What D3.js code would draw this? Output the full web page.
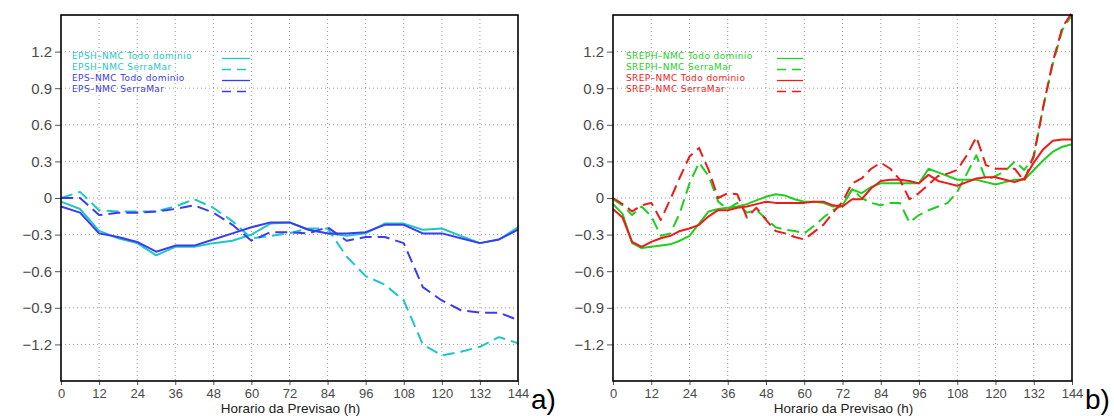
<!DOCTYPE html>
<html><head><meta charset="utf-8">
<script src="https://cdn.jsdelivr.net/npm/d3@7"></script>
<style>
body{margin:0;background:#fff;}
svg{display:block;}
</style></head>
<body>
<svg id="chart" width="1114" height="416"></svg>
<script>
// ---- data ----
const hoursA = [0,6,12,18,24,30,36,42,48,54,60,66,72,78,84,90,96,102,108,114,120,126,132,138,144];
const epshTodo = [-0.03,-0.09,-0.27,-0.33,-0.37,-0.47,-0.40,-0.40,-0.37,-0.35,-0.30,-0.21,-0.20,-0.26,-0.29,-0.31,-0.29,-0.21,-0.21,-0.26,-0.25,-0.31,-0.37,-0.34,-0.24];
const epshSerra = [0.00,0.05,-0.10,-0.11,-0.11,-0.11,-0.07,-0.01,-0.08,-0.19,-0.33,-0.31,-0.29,-0.25,-0.25,-0.48,-0.64,-0.71,-0.84,-1.20,-1.29,-1.26,-1.22,-1.14,-1.19];
const epsTodo = [-0.07,-0.12,-0.29,-0.32,-0.36,-0.44,-0.39,-0.39,-0.34,-0.29,-0.24,-0.20,-0.20,-0.26,-0.29,-0.29,-0.28,-0.22,-0.22,-0.29,-0.29,-0.33,-0.37,-0.34,-0.26];
const epsSerra = [0.00,0.00,-0.14,-0.12,-0.12,-0.11,-0.09,-0.06,-0.12,-0.22,-0.35,-0.28,-0.28,-0.29,-0.24,-0.35,-0.32,-0.32,-0.37,-0.73,-0.84,-0.92,-0.94,-0.94,-1.00];

const hoursB = [0,3,6,9,12,15,18,21,24,27,30,33,36,39,42,45,48,51,54,57,60,63,66,69,72,75,78,81,84,87,90,93,96,99,102,105,108,111,114,117,120,123,126,129,132,135,138,141,144];
const srephTodo = [-0.05,-0.13,-0.37,-0.41,-0.40,-0.39,-0.38,-0.35,-0.31,-0.21,-0.11,-0.09,-0.08,-0.07,-0.05,-0.02,0.01,0.03,0.02,-0.01,-0.03,-0.03,-0.04,-0.07,-0.06,0.07,0.04,0.09,0.12,0.12,0.12,0.12,0.12,0.24,0.21,0.18,0.15,0.15,0.15,0.13,0.11,0.13,0.15,0.15,0.23,0.31,0.38,0.42,0.44];
const srephSerra = [-0.01,-0.06,-0.14,-0.07,-0.15,-0.31,-0.29,-0.12,0.12,0.29,0.18,-0.03,-0.09,-0.04,-0.12,-0.10,-0.17,-0.24,-0.26,-0.27,-0.29,-0.23,-0.16,-0.10,-0.06,0.07,0.00,-0.04,-0.06,-0.04,-0.04,-0.20,-0.14,-0.10,-0.07,-0.04,0.05,0.20,0.35,0.15,0.18,0.22,0.30,0.23,0.33,0.75,1.10,1.38,1.50];
const srepTodo = [-0.09,-0.16,-0.36,-0.40,-0.36,-0.33,-0.31,-0.27,-0.25,-0.22,-0.15,-0.10,-0.10,-0.08,-0.07,-0.05,-0.03,-0.04,-0.04,-0.04,-0.04,-0.03,-0.03,-0.06,-0.07,-0.01,-0.01,0.08,0.14,0.15,0.15,0.14,0.12,0.19,0.14,0.12,0.10,0.13,0.16,0.17,0.17,0.15,0.13,0.16,0.29,0.40,0.47,0.48,0.48];
const srepSerra = [0.00,-0.05,-0.11,-0.06,-0.04,-0.18,-0.01,0.17,0.34,0.41,0.23,0.00,0.04,0.03,-0.16,-0.08,-0.18,-0.27,-0.29,-0.32,-0.34,-0.28,-0.22,-0.12,-0.03,0.12,0.16,0.24,0.29,0.24,0.15,-0.01,0.04,0.11,0.18,0.20,0.23,0.35,0.50,0.27,0.24,0.24,0.24,0.14,0.35,0.75,1.12,1.40,1.52];

const xTicks = [0,12,24,36,48,60,72,84,96,108,120,132,144];
const yTicks = [-1.2,-0.9,-0.6,-0.3,0,0.3,0.6,0.9,1.2];
const xTitle = "Horario da Previsao (h)";

const panels = [
  {left:61, right:518, tag:"a)", hours:hoursA, legendX:72, sampleX:[222,250],
   series:[
    {name:"EPSH\u2013NMC Todo dominio", vals:epshTodo, color:"#1fc6c6", dash:null},
    {name:"EPSH\u2013NMC  SerraMar", vals:epshSerra, color:"#1fc6c6", dash:"12,6"},
    {name:"EPS\u2013NMC Todo dominio", vals:epsTodo, color:"#3b3bf2", dash:null},
    {name:"EPS\u2013NMC SerraMar", vals:epsSerra, color:"#3b3bf2", dash:"12,6"}]},
  {left:613, right:1072, tag:"b)", hours:hoursB, legendX:626, sampleX:[777,803],
   series:[
    {name:"SREPH\u2013NMC Todo dominio", vals:srephTodo, color:"#1fcf1f", dash:null},
    {name:"SREPH\u2013NMC  SerraMar", vals:srephSerra, color:"#1fcf1f", dash:"12,6"},
    {name:"SREP\u2013NMC Todo dominio", vals:srepTodo, color:"#ee1b1b", dash:null},
    {name:"SREP\u2013NMC SerraMar", vals:srepSerra, color:"#ee1b1b", dash:"12,6"}]}
];

const svg = d3.select("#chart");
const plotTop = 15, plotBottom = 381;
const fmt = d => d === 0 ? "0" : d3.format(".1f")(d);

panels.forEach(p => {
  const x = d3.scaleLinear().domain([0,144]).range([p.left, p.right]);
  const y = d3.scaleLinear().domain([-1.5,1.5]).range([plotBottom, plotTop]);
  const g = svg.append("g");

  // grid
  g.append("g").selectAll("line").data(xTicks.filter(t => t > 0 && t < 144)).join("line")
    .attr("x1", d => x(d)).attr("x2", d => x(d)).attr("y1", plotTop).attr("y2", plotBottom)
    .attr("stroke", "#9a9a9a").attr("stroke-width", 1).attr("stroke-dasharray", "1,3");
  g.append("g").selectAll("line").data(yTicks).join("line")
    .attr("x1", p.left).attr("x2", p.right).attr("y1", d => y(d)).attr("y2", d => y(d))
    .attr("stroke", "#9a9a9a").attr("stroke-width", 1).attr("stroke-dasharray", "1,3");

  // axes
  const ya = g.append("g").attr("transform", `translate(${p.left},0)`)
    .call(d3.axisLeft(y).tickValues(yTicks).tickFormat(fmt).tickSize(6).tickPadding(3));
  ya.select(".domain").remove();
  ya.selectAll("text").attr("font-family", "Liberation Sans, Arial, sans-serif")
    .attr("font-size", 15).attr("fill", "#4a4a4a");
  ya.selectAll("line").attr("stroke", "#555");

  const xa = g.append("g").attr("transform", `translate(0,${plotBottom})`)
    .call(d3.axisBottom(x).tickValues(xTicks).tickSize(4).tickPadding(4));
  xa.select(".domain").remove();
  xa.selectAll("text").attr("font-family", "Liberation Sans, Arial, sans-serif")
    .attr("font-size", 13).attr("fill", "#4a4a4a");
  xa.selectAll("line").attr("stroke", "#555");

  // lines
  const line = d3.line().x((d,i) => x(p.hours[i])).y(d => y(d));
  p.series.forEach(s => {
    g.append("path").datum(s.vals).attr("d", line)
      .attr("fill", "none").attr("stroke", s.color).attr("stroke-width", 2)
      .attr("stroke-linejoin", "round")
      .attr("stroke-dasharray", s.dash);
  });

  // frame
  g.append("rect").attr("x", p.left).attr("y", plotTop)
    .attr("width", p.right - p.left).attr("height", plotBottom - plotTop)
    .attr("fill", "none").attr("stroke", "#000").attr("stroke-width", 1.6);

  // legend
  p.series.forEach((s, i) => {
    const yy = 55.5 + i * 11;
    g.append("text").attr("x", p.legendX).attr("y", yy).attr("dy", "0.35em")
      .attr("font-family", "DejaVu Sans, sans-serif").attr("font-size", 9)
      .attr("letter-spacing", 0.4)
      .attr("fill", s.color).text(s.name);
    g.append("line").attr("x1", p.sampleX[0]).attr("x2", p.sampleX[1])
      .attr("y1", yy + 3).attr("y2", yy + 3)
      .attr("stroke", s.color).attr("stroke-width", 1.3)
      .attr("stroke-dasharray", s.dash ? "9,6" : null);
  });

  // x title
  g.append("text").attr("x", (p.left + p.right) / 2 + 1).attr("y", 413)
    .attr("text-anchor", "middle").attr("font-family", "Liberation Sans, Arial, sans-serif")
    .attr("font-size", 13.5).attr("fill", "#222").text(xTitle);

  // panel tag
  g.append("text").attr("x", p.right + 13).attr("y", 409)
    .attr("font-family", "Liberation Sans, Arial, sans-serif")
    .attr("font-size", 28).attr("fill", "#000").text(p.tag);
});
</script>
</body></html>
